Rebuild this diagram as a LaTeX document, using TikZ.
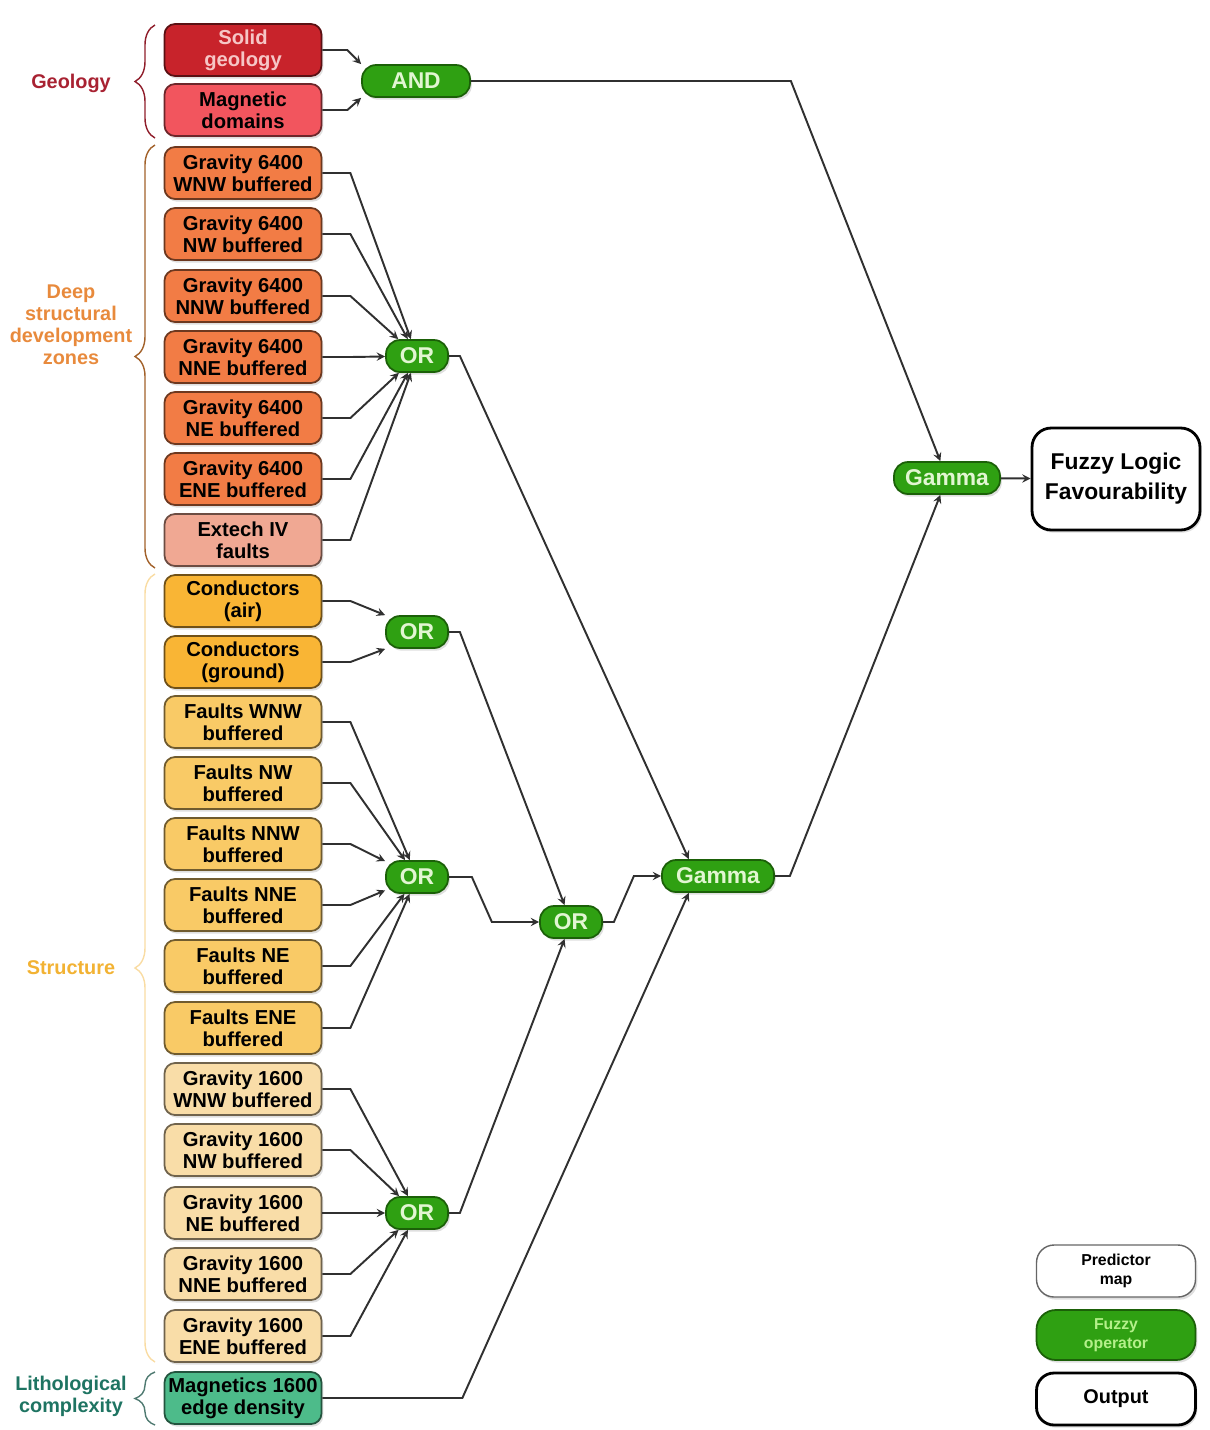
\documentclass[tikz,border=0pt]{standalone}
\usepackage{fontspec}
\setmainfont{Liberation Sans}
\usetikzlibrary{decorations.pathreplacing,shadows}

\definecolor{solidred}{HTML}{C8232B}
\definecolor{solidtext}{HTML}{F6C6C6}
\definecolor{magred}{HTML}{F2555E}
\definecolor{grav6400}{HTML}{F27C45}
\definecolor{extech}{HTML}{F0A893}
\definecolor{conductor}{HTML}{F9B535}
\definecolor{faults}{HTML}{F9CA66}
\definecolor{grav1600}{HTML}{F9DDA8}
\definecolor{magnet}{HTML}{4DBB8A}
\definecolor{opgreen}{HTML}{2FA012}
\definecolor{opborder}{HTML}{1B6008}
\definecolor{optext}{HTML}{E2F6D2}
\definecolor{keytext}{HTML}{B4F08A}
\definecolor{geolabel}{HTML}{A82232}
\definecolor{deeplabel}{HTML}{E88A3C}
\definecolor{structlabel}{HTML}{F2B233}
\definecolor{litholabel}{HTML}{1E7462}
\definecolor{linkgray}{HTML}{303030}

\begin{document}
\begin{tikzpicture}[
    predictor/.style={rectangle, rounded corners=6pt, draw=#1!45!black, fill=#1, line width=1pt,
        minimum width=3.14cm, minimum height=1.04cm, inner sep=1pt, align=center,
        font=\bfseries\fontsize{11.5}{12.5}\selectfont,
        drop shadow={shadow xshift=1pt, shadow yshift=-1.5pt, opacity=0.25}},
    operator/.style={rectangle, rounded corners=8pt, draw=opborder, fill=opgreen, line width=1pt,
        minimum height=0.64cm, inner sep=2pt, text=optext, align=center,
        font=\bfseries\fontsize{13}{14}\selectfont,
        drop shadow={shadow xshift=1pt, shadow yshift=-1.5pt, opacity=0.25}},
    outbox/.style={rectangle, rounded corners=11pt, draw=black, fill=white, line width=1.6pt,
        align=center, font=\bfseries\fontsize{13}{17}\selectfont,
        drop shadow={shadow xshift=1pt, shadow yshift=-1.5pt, opacity=0.25}},
    grouplabel/.style={align=center, font=\bfseries\fontsize{11.3}{12.5}\selectfont},
    groupbrace/.style={decorate, decoration={brace, amplitude=0.4cm}, line width=0.8pt},
    link/.style={draw=linkgray, line width=1.1pt, ->, >=stealth}
]
\useasboundingbox (0,0) rectangle (24.2,-28.6);

% Predictor maps
\node[predictor=solidred, text=solidtext] (solid) at (4.86,-1.00) {Solid\\geology};
\node[predictor=magred] (magdom) at (4.86,-2.20) {Magnetic\\domains};
\node[predictor=grav6400] (g6wnw) at (4.86,-3.46) {Gravity 6400\\WNW buffered};
\node[predictor=grav6400] (g6nw) at (4.86,-4.68) {Gravity 6400\\NW buffered};
\node[predictor=grav6400] (g6nnw) at (4.86,-5.92) {Gravity 6400\\NNW buffered};
\node[predictor=grav6400] (g6nne) at (4.86,-7.14) {Gravity 6400\\NNE buffered};
\node[predictor=grav6400] (g6ne) at (4.86,-8.36) {Gravity 6400\\NE buffered};
\node[predictor=grav6400] (g6ene) at (4.86,-9.58) {Gravity 6400\\ENE buffered};
\node[predictor=extech] (extech) at (4.86,-10.80) {Extech IV\\faults};
\node[predictor=conductor] (condair) at (4.86,-12.02) {Conductors\\(air)};
\node[predictor=conductor] (condgnd) at (4.86,-13.24) {Conductors\\(ground)};
\node[predictor=faults] (fwnw) at (4.86,-14.44) {Faults WNW\\buffered};
\node[predictor=faults] (fnw) at (4.86,-15.66) {Faults NW\\buffered};
\node[predictor=faults] (fnnw) at (4.86,-16.88) {Faults NNW\\buffered};
\node[predictor=faults] (fnne) at (4.86,-18.10) {Faults NNE\\buffered};
\node[predictor=faults] (fne) at (4.86,-19.32) {Faults NE\\buffered};
\node[predictor=faults] (fene) at (4.86,-20.56) {Faults ENE\\buffered};
\node[predictor=grav1600] (g1wnw) at (4.86,-21.78) {Gravity 1600\\WNW buffered};
\node[predictor=grav1600] (g1nw) at (4.86,-23.00) {Gravity 1600\\NW buffered};
\node[predictor=grav1600] (g1ne) at (4.86,-24.26) {Gravity 1600\\NE buffered};
\node[predictor=grav1600] (g1nne) at (4.86,-25.48) {Gravity 1600\\NNE buffered};
\node[predictor=grav1600] (g1ene) at (4.86,-26.72) {Gravity 1600\\ENE buffered};
\node[predictor=magnet] (magedge) at (4.86,-27.96) {Magnetics 1600\\edge density};

% Fuzzy operators
\node[operator, minimum width=2.16cm] (and) at (8.32,-1.62) {AND};
\node[operator, minimum width=1.24cm] (or1) at (8.34,-7.12) {OR};
\node[operator, minimum width=1.24cm] (or2) at (8.34,-12.64) {OR};
\node[operator, minimum width=1.24cm] (or3) at (8.34,-17.54) {OR};
\node[operator, minimum width=1.24cm] (or4) at (11.42,-18.44) {OR};
\node[operator, minimum width=1.24cm] (or5) at (8.34,-24.26) {OR};
\node[operator, minimum width=2.24cm] (gamma1) at (14.36,-17.52) {Gamma};
\node[operator, minimum width=2.12cm] (gamma2) at (18.94,-9.56) {Gamma};

% Output
\node[outbox, minimum width=3.36cm, minimum height=2.04cm] (favour) at (22.32,-9.58) {Fuzzy Logic\\Favourability};

% Legend
\node[outbox, draw=black!60, line width=0.8pt, rounded corners=10pt, minimum width=3.18cm, minimum height=1.04cm,
    font=\bfseries\fontsize{9}{11}\selectfont] (keypred) at (22.32,-25.42) {Predictor\\map};
\node[operator, rounded corners=11pt, minimum width=3.18cm, minimum height=1.0cm, text=keytext,
    font=\bfseries\fontsize{9}{11}\selectfont] (keyop) at (22.32,-26.70) {Fuzzy\\operator};
\node[outbox, rounded corners=10pt, minimum width=3.18cm, minimum height=1.04cm,
    font=\bfseries\fontsize{11.3}{13}\selectfont] (keyout) at (22.32,-27.98) {Output};

% Groups
\node[grouplabel, text=geolabel] (geology) at (1.42,-1.66) {Geology};
\node[grouplabel, text=deeplabel] (deep) at (1.42,-6.50) {Deep\\structural\\development\\zones};
\node[grouplabel, text=structlabel] (structure) at (1.42,-19.36) {Structure};
\node[grouplabel, text=litholabel] (litho) at (1.42,-27.92) {Lithological\\complexity};
\draw[groupbrace, draw=geolabel!85!black] (3.10,-2.76) -- (3.10,-0.50);
\draw[groupbrace, draw=deeplabel!70!black] (3.10,-11.36) -- (3.10,-2.90);
\draw[groupbrace, draw=structlabel!45!white] (3.10,-27.24) -- (3.10,-11.48);
\draw[groupbrace, draw=litholabel!50!gray] (3.10,-28.50) -- (3.10,-27.44);

% Geology
\path[link] (solid.east) -- ++(0.5,0) -- (and.north west);
\path[link] (magdom.east) -- ++(0.5,0) -- (and.south west);

% Deep structural development zones
\path[link] (g6wnw.east) -- ++(0.56,0) -- (or1);
\path[link] (g6nw.east) -- ++(0.56,0) -- (or1);
\path[link] (g6nnw.east) -- ++(0.56,0) -- (or1);
\path[link] (g6nne.east) -- ++(0.56,0) -- (or1);
\path[link] (g6ne.east) -- ++(0.56,0) -- (or1);
\path[link] (g6ene.east) -- ++(0.56,0) -- (or1);
\path[link] (extech.east) -- ++(0.56,0) -- (or1);

% Structure
\path[link] (condair.east) -- ++(0.56,0) -- (or2.north west);
\path[link] (condgnd.east) -- ++(0.56,0) -- (or2.south west);
\path[link] (fwnw.east) -- ++(0.56,0) -- (or3);
\path[link] (fnw.east) -- ++(0.56,0) -- (or3);
\path[link] (fnnw.east) -- ++(0.56,0) -- (or3);
\path[link] (fnne.east) -- ++(0.56,0) -- (or3);
\path[link] (fne.east) -- ++(0.56,0) -- (or3);
\path[link] (fene.east) -- ++(0.56,0) -- (or3);
\path[link] (g1wnw.east) -- ++(0.56,0) -- (or5);
\path[link] (g1nw.east) -- ++(0.56,0) -- (or5);
\path[link] (g1ne.east) -- ++(0.56,0) -- (or5);
\path[link] (g1nne.east) -- ++(0.56,0) -- (or5);
\path[link] (g1ene.east) -- ++(0.56,0) -- (or5);

% Combining
\path[link] (or2.east) -- ++(0.22,0) -- (or4);
\path[link] (or3.east) -- ++(0.46,0) -- ++(0.4,-0.9) -- (or4);
\path[link] (or5.east) -- ++(0.22,0) -- (or4);
\path[link] (or1.east) -- ++(0.22,0) -- (gamma1.150);
\path[link] (or4.east) -- ++(0.22,0) -- ++(0.4,0.92) -- (gamma1);
\path[link] (magedge.east) -- ++(2.8,0) -- (gamma1.210);
\path[link] (and.east) -- ++(6.4,0) -- (gamma2);
\path[link] (gamma1.east) -- ++(0.3,0) -- (gamma2);
\path[link] (gamma2) -- (favour);

\end{tikzpicture}
\end{document}
